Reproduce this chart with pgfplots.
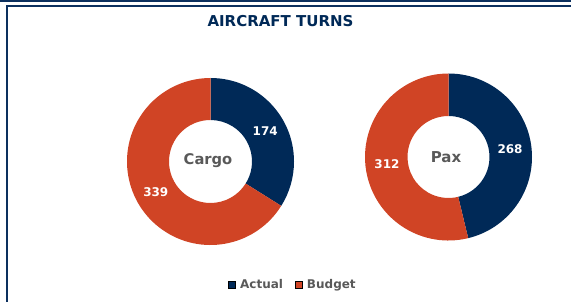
\documentclass[border=0pt]{standalone}
\usepackage{fontspec}
\setmainfont{DejaVu Sans}
\usepackage{pgfplots}
\pgfplotsset{compat=1.18}
\definecolor{navy}{RGB}{0,41,87}
\definecolor{framec}{RGB}{12,48,94}
\definecolor{budget}{RGB}{208,68,37}
\definecolor{lbl}{RGB}{89,89,89}
% data
\def\cargoActual{174}
\def\cargoBudget{339}
\def\paxActual{268}
\def\paxBudget{312}
\pgfmathsetmacro{\cA}{90-360*(\cargoActual/(\cargoActual+\cargoBudget))}
\pgfmathsetmacro{\cAm}{(90+\cA)/2}
\pgfmathsetmacro{\cBm}{(\cA-270)/2}
\pgfmathsetmacro{\pA}{90-360*(\paxActual/(\paxActual+\paxBudget))}
\pgfmathsetmacro{\pAm}{(90+\pA)/2}
\pgfmathsetmacro{\pBm}{(\pA-270)/2}
\begin{document}
\begin{tikzpicture}
\path[use as bounding box] (0,0) rectangle (571pt,302pt);
\fill[framec] (0,299.7pt) rectangle (571pt,302pt);
\draw[framec, line width=2.5pt] (7.2pt,0) -- (7.2pt,296pt) -- (571pt,296pt);
\begin{axis}[at={(0pt,0pt)}, anchor=south west, scale only axis,
  width=571pt, height=302pt, xmin=0, xmax=571, ymin=0, ymax=302,
  y dir=reverse, hide axis, clip=false,
  legend columns=2,
  legend cell align=left,
  legend image code/.code={\fill[#1] (0pt,-3.5pt) rectangle (7pt,3.5pt); \path (9.5pt,0pt);},
  legend style={at={(axis cs:293,285)}, anchor=center, draw=none, fill=none,
    font=\fontsize{12}{14}\selectfont\bfseries, text=lbl,
    /tikz/every even column/.append style={column sep=10pt}},
]
\addlegendimage{fill=navy}
\addlegendentry{Actual}
\addlegendimage{fill=budget}
\addlegendentry{Budget}
% Cargo donut
\fill[navy] (axis cs:210.5,161.5) ++(90:83.5pt) arc[start angle=90, end angle=\cA, radius=83.5pt]
  -- ([shift={(\cA:41.5pt)}]axis cs:210.5,161.5) arc[start angle=\cA, end angle=90, radius=41.5pt] -- cycle;
\fill[budget] (axis cs:210.5,161.5) ++(\cA:83.5pt) arc[start angle=\cA, end angle=-270, radius=83.5pt]
  -- ([shift={(-270:41.5pt)}]axis cs:210.5,161.5) arc[start angle=-270, end angle=\cA, radius=41.5pt] -- cycle;
% Pax donut
\fill[navy] (axis cs:448.5,157) ++(90:83.5pt) arc[start angle=90, end angle=\pA, radius=83.5pt]
  -- ([shift={(\pA:41pt)}]axis cs:448.5,157) arc[start angle=\pA, end angle=90, radius=41pt] -- cycle;
\fill[budget] (axis cs:448.5,157) ++(\pA:83.5pt) arc[start angle=\pA, end angle=-270, radius=83.5pt]
  -- ([shift={(-270:41pt)}]axis cs:448.5,157) arc[start angle=-270, end angle=\pA, radius=41pt] -- cycle;
% labels
\node[text=white, font=\fontsize{12}{14}\selectfont\bfseries] at ([shift={(\cAm:62.5pt)}]axis cs:210.5,161.5) {\cargoActual};
\node[text=white, font=\fontsize{12}{14}\selectfont\bfseries] at ([shift={(\cBm:62.5pt)}]axis cs:210.5,161.5) {\cargoBudget};
\node[text=white, font=\fontsize{12}{14}\selectfont\bfseries] at ([shift={(\pAm:62pt)}]axis cs:448.5,157) {\paxActual};
\node[text=white, font=\fontsize{12}{14}\selectfont\bfseries] at ([shift={(\pBm:62pt)}]axis cs:448.5,157) {\paxBudget};
\node[text=lbl, font=\fontsize{14.7}{17}\selectfont\bfseries] at (axis cs:208,161) {Cargo};
\node[text=lbl, font=\fontsize{15}{17}\selectfont\bfseries] at (axis cs:446,157) {Pax};
\node[text=navy, font=\fontsize{15}{18}\selectfont\bfseries] at (axis cs:280.5,21) {AIRCRAFT TURNS};
\end{axis}
\end{tikzpicture}
\end{document}
